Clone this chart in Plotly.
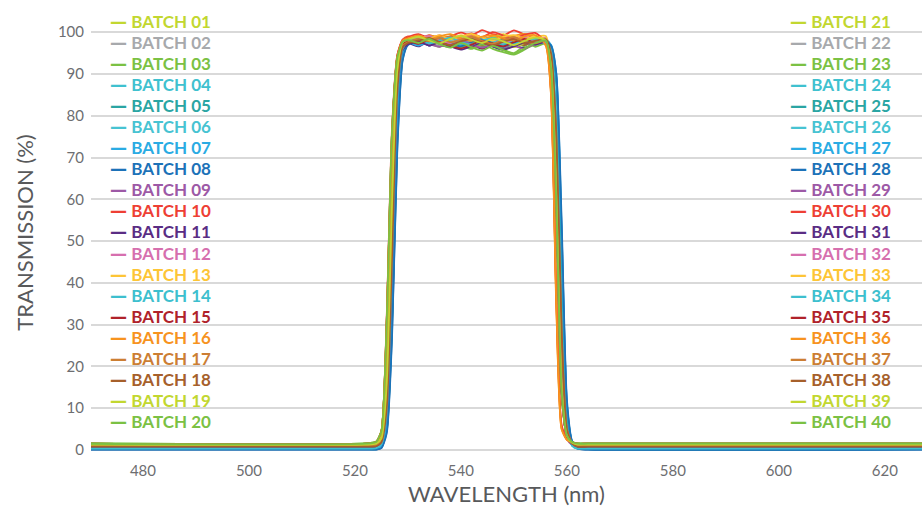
import plotly.graph_objects as go

# ---------------- data ----------------
wavelength = [470, 522, 524, 525, 526, 527, 528, 529, 530, 532, 534, 536, 538, 540, 542, 544,
              546, 548, 550, 552, 554, 556, 557, 558, 559, 560, 561, 562, 564, 628]

T01 = [1.4, 1.4, 1.6, 2.9, 16, 60, 91, 97.5, 98.8, 97.4, 98.6, 97.2, 98.9, 97.6, 97.0, 98.7, 97.3, 96.4, 97.9, 96.8, 98.3, 97.5, 92, 61, 15, 3.4, 1.8, 1.4, 1.4, 1.4]
T02 = [0.6, 0.6, 0.7, 1.6, 10, 46, 86, 96.5, 97.6, 98.6, 97.3, 98.9, 97.8, 98.2, 99.0, 97.4, 98.5, 97.2, 98.3, 99.0, 97.7, 97.3, 95, 76, 29, 4.6, 1.3, 0.6, 0.6, 0.6]
T03 = [1.6, 1.6, 2.0, 4.6, 31, 76, 94, 97.8, 97.2, 98.7, 96.9, 98.2, 96.4, 97.6, 98.4, 96.5, 97.4, 95.8, 95.0, 96.7, 97.9, 98.3, 91, 58, 13, 3.6, 2.0, 1.6, 1.6, 1.6]
T04 = [0.4, 0.4, 0.5, 1.4, 9, 44, 85, 96.2, 97.9, 96.8, 98.4, 97.3, 96.7, 98.6, 97.9, 96.9, 98.7, 97.6, 98.2, 97.0, 98.5, 97.5, 94.5, 74, 27, 4.4, 1.1, 0.4, 0.4, 0.4]
T05 = [0.25, 0.25, 0.25, 0.75, 5, 31, 76, 94, 97.2, 98.3, 97.0, 97.9, 98.8, 97.5, 96.9, 98.1, 98.6, 97.4, 96.8, 97.8, 98.6, 97.9, 96.5, 88, 47, 9, 1.7, 0.45, 0.25, 0.25]
T06 = [0.7, 0.7, 0.8, 1.7, 10, 47, 86, 96.6, 98.2, 97.1, 98.6, 97.5, 98.9, 97.9, 97.0, 98.4, 97.5, 99.0, 97.9, 96.9, 98.2, 97.6, 95, 76, 30, 4.7, 1.4, 0.7, 0.7, 0.7]
T07 = [0.35, 0.35, 0.35, 0.85, 5.5, 32, 77, 94.5, 97.5, 98.5, 97.4, 98.2, 97.0, 98.8, 97.8, 96.8, 98.0, 98.6, 97.2, 98.3, 97.6, 98.4, 96.8, 89, 50, 10, 1.9, 0.55, 0.35, 0.35]
T08 = [0.1, 0.1, 0.1, 0.5, 4.5, 28, 73, 93.5, 97.1, 98.0, 96.8, 97.5, 98.4, 96.7, 97.4, 98.3, 96.6, 95.9, 97.0, 97.9, 98.4, 98.0, 96.7, 89, 52, 11, 1.8, 0.3, 0.1, 0.1]
T09 = [0.9, 0.9, 1.1, 2.4, 15, 57, 90, 96.9, 97.4, 98.4, 96.8, 97.7, 98.6, 97.2, 96.4, 97.5, 96.6, 96.0, 97.3, 98.2, 97.1, 97.8, 92, 62, 15, 2.9, 1.3, 0.9, 0.9, 0.9]
T10 = [1.5, 1.5, 1.9, 4.5, 32, 77, 94.5, 98.2, 99.0, 98.3, 99.3, 98.5, 99.0, 99.9, 99.2, 100.5, 99.5, 99.2, 100.4, 99.4, 98.7, 97.6, 86, 36, 5.5, 2.5, 1.8, 1.5, 1.5, 1.5]
T11 = [0.8, 0.8, 0.9, 1.8, 9, 44, 85, 95.8, 97.3, 96.6, 97.8, 96.9, 96.5, 97.6, 97.0, 96.0, 97.2, 98.0, 96.9, 96.2, 97.4, 97.9, 95, 75, 28, 4.8, 1.5, 0.8, 0.8, 0.8]
T12 = [1.1, 1.1, 1.3, 2.6, 15, 58, 90, 97, 97.9, 98.8, 97.7, 98.4, 97.4, 98.6, 99.2, 98.1, 97.3, 98.5, 99.0, 97.8, 98.3, 98.6, 92.5, 61, 15, 3.1, 1.5, 1.1, 1.1, 1.1]
T13 = [1.3, 1.3, 1.5, 2.8, 16, 59, 91, 97.5, 98.7, 99.2, 98.2, 99.0, 98.5, 99.3, 98.7, 98.0, 98.8, 99.5, 98.6, 97.9, 98.8, 99.1, 93, 63, 16, 3.3, 1.7, 1.3, 1.3, 1.3]
T14 = [0.3, 0.3, 0.4, 1.3, 9, 45, 85, 96, 97.6, 96.9, 98.0, 98.7, 97.4, 96.8, 97.9, 98.6, 97.6, 97.0, 98.2, 97.5, 96.9, 97.7, 95.5, 78, 31, 4.5, 1.0, 0.3, 0.3, 0.3]
T15 = [1.2, 1.2, 1.4, 2.7, 15, 57, 90, 97.1, 98.0, 98.9, 98.1, 97.3, 98.5, 97.8, 96.9, 96.2, 97.2, 98.0, 98.7, 97.6, 97.0, 98.1, 92, 60, 14, 3.2, 1.6, 1.2, 1.2, 1.2]
T16 = [1.45, 1.45, 1.85, 4.4, 30, 75, 94, 98, 98.8, 98.0, 99.2, 98.6, 97.9, 98.9, 99.4, 98.4, 99.0, 98.1, 99.1, 99.6, 98.7, 96.8, 85, 34, 5, 2.45, 1.75, 1.45, 1.45, 1.45]
T17 = [1.0, 1.0, 1.2, 2.5, 14, 56, 89, 96.8, 97.8, 98.6, 97.5, 98.2, 99.0, 98.0, 97.3, 98.4, 97.6, 98.7, 98.0, 97.2, 98.2, 97.7, 94.5, 74, 27, 5, 1.7, 1.0, 1.0, 1.0]
T18 = [0.9, 0.9, 1.0, 1.9, 10, 46, 86, 96.4, 97.6, 98.1, 97.2, 98.0, 97.1, 98.3, 97.7, 96.8, 97.6, 98.5, 97.4, 96.9, 97.9, 98.3, 95, 76, 29, 4.9, 1.6, 0.9, 0.9, 0.9]
T19 = [1.35, 1.35, 1.55, 2.9, 16, 60, 91, 98, 98.6, 97.8, 98.9, 98.2, 97.5, 98.8, 98.0, 97.1, 98.2, 97.5, 96.4, 97.4, 98.5, 97.9, 92, 61, 15, 3.35, 1.75, 1.35, 1.35, 1.35]
T20 = [1.55, 1.55, 1.95, 4.5, 30, 76, 94, 97.6, 97.9, 98.7, 97.3, 96.5, 97.7, 96.8, 96.0, 97.1, 96.0, 95.2, 94.6, 95.8, 97.2, 98.1, 91.5, 59, 14, 3.5, 1.95, 1.55, 1.55, 1.55]
T21 = [1.3, 1.3, 1.5, 2.8, 15, 58, 90, 97.3, 98.3, 99.0, 98.0, 98.6, 97.7, 98.9, 98.3, 97.5, 98.7, 99.3, 98.4, 97.6, 98.5, 98.0, 92.5, 62, 15, 3.3, 1.7, 1.3, 1.3, 1.3]
T22 = [0.65, 0.65, 0.75, 1.65, 10, 45, 85, 96.3, 97.7, 98.5, 97.9, 96.9, 98.0, 98.6, 97.5, 98.1, 97.2, 97.9, 98.7, 97.6, 97.0, 97.9, 95, 75, 28, 4.65, 1.35, 0.65, 0.65, 0.65]
T23 = [1.6, 1.6, 2.0, 4.6, 31, 76, 94, 97.9, 98.4, 97.5, 98.5, 97.9, 96.9, 96.3, 97.4, 98.2, 96.8, 95.8, 96.8, 97.8, 96.5, 97.3, 91, 57, 13, 3.6, 2.0, 1.6, 1.6, 1.6]
T24 = [0.4, 0.4, 0.5, 1.4, 9.5, 46, 86, 96.4, 97.9, 98.6, 97.6, 98.3, 97.3, 97.9, 98.8, 97.7, 97.1, 98.0, 97.5, 98.6, 97.9, 97.2, 95.5, 78, 31, 4.4, 1.1, 0.4, 0.4, 0.4]
T25 = [0.2, 0.2, 0.2, 0.7, 5, 30, 75, 93.8, 97.3, 98.1, 98.6, 97.4, 96.8, 97.9, 98.5, 97.3, 97.9, 97.0, 97.8, 98.5, 97.5, 98.1, 96.6, 88, 48, 9, 1.7, 0.4, 0.2, 0.2]
T26 = [0.55, 0.55, 0.65, 1.55, 9, 45, 85, 96.2, 98.0, 97.2, 98.3, 99.0, 97.9, 97.1, 97.8, 98.7, 97.9, 97.2, 98.2, 98.8, 97.7, 97.4, 95, 76, 30, 4.55, 1.25, 0.55, 0.55, 0.55]
T27 = [0.3, 0.3, 0.3, 0.8, 5.5, 32, 77, 94.3, 97.5, 96.8, 97.8, 98.5, 97.5, 96.9, 98.1, 97.4, 98.6, 97.8, 97.0, 98.0, 98.7, 97.7, 97, 90, 53, 11, 1.9, 0.5, 0.3, 0.3]
T28 = [0.1, 0.1, 0.1, 0.45, 4, 27, 72, 93.2, 96.9, 97.7, 97.0, 98.0, 97.3, 96.6, 97.6, 98.3, 97.2, 96.5, 97.5, 98.2, 97.3, 97.7, 96.8, 90, 55, 12, 2.0, 0.3, 0.1, 0.1]
T29 = [0.8, 0.8, 0.9, 1.8, 10, 46, 86, 96.3, 97.4, 98.0, 97.1, 96.5, 97.4, 98.1, 97.0, 96.3, 97.1, 97.8, 96.8, 96.0, 97.3, 97.7, 92, 61, 15, 2.8, 1.2, 0.8, 0.8, 0.8]
T30 = [1.5, 1.5, 1.9, 4.5, 31, 76, 94.5, 98.1, 98.8, 99.5, 98.6, 99.2, 98.4, 98.9, 99.7, 98.8, 100.0, 99.2, 98.5, 99.4, 99.8, 97.5, 86, 37, 6, 2.5, 1.8, 1.5, 1.5, 1.5]
T31 = [0.7, 0.7, 0.8, 1.7, 9, 44, 85, 95.7, 97.1, 97.8, 96.8, 97.6, 96.6, 95.8, 96.7, 97.5, 96.6, 95.8, 96.6, 97.5, 97.0, 97.6, 95, 75, 28, 4.7, 1.4, 0.7, 0.7, 0.7]
T32 = [1.0, 1.0, 1.2, 2.5, 14, 57, 90, 96.9, 97.7, 98.5, 99.1, 98.0, 97.4, 98.3, 98.9, 97.8, 98.4, 97.5, 98.2, 98.9, 97.9, 97.7, 92, 61, 15, 3.0, 1.4, 1.0, 1.0, 1.0]
T33 = [1.25, 1.25, 1.45, 2.75, 16, 59, 91, 97.4, 98.4, 99.1, 98.5, 99.3, 98.3, 98.9, 99.6, 98.7, 98.0, 98.9, 99.3, 98.4, 99.0, 98.2, 93, 63, 16, 3.25, 1.65, 1.25, 1.25, 1.25]
T34 = [0.35, 0.35, 0.45, 1.35, 9, 45, 85, 96, 97.7, 98.3, 97.3, 98.0, 98.7, 97.6, 97.0, 98.0, 98.5, 97.6, 97.1, 98.0, 98.4, 97.7, 95.5, 77, 30, 4.35, 1.05, 0.35, 0.35, 0.35]
T35 = [1.1, 1.1, 1.3, 2.6, 15, 57, 90, 97, 97.9, 97.2, 98.1, 97.5, 96.8, 96.1, 97.0, 97.9, 97.2, 96.6, 97.6, 98.4, 97.4, 98.0, 92, 60, 14, 3.1, 1.5, 1.1, 1.1, 1.1]
T36 = [1.4, 1.4, 1.8, 4.4, 30, 75, 94, 98, 98.5, 99.2, 98.3, 99.0, 99.5, 98.5, 97.9, 98.9, 99.3, 98.6, 98.0, 99.0, 99.3, 96.9, 85, 35, 5, 2.4, 1.7, 1.4, 1.4, 1.4]
T37 = [1.0, 1.0, 1.2, 2.5, 14, 56, 89, 96.8, 97.6, 98.4, 97.8, 98.6, 97.6, 98.2, 98.9, 97.9, 97.2, 98.1, 98.8, 97.7, 97.3, 98.0, 94.5, 74, 27, 5, 1.7, 1.0, 1.0, 1.0]
T38 = [0.8, 0.8, 0.9, 1.8, 10, 46, 86, 96.3, 97.4, 98.0, 98.6, 97.6, 96.9, 97.8, 98.4, 97.5, 96.8, 97.7, 98.3, 97.4, 97.9, 98.3, 95, 76, 29, 4.8, 1.5, 0.8, 0.8, 0.8]
T39 = [1.3, 1.3, 1.5, 2.8, 16, 59, 91, 97.6, 98.2, 98.9, 98.0, 97.3, 98.4, 99.1, 98.2, 97.4, 98.5, 97.8, 96.9, 97.9, 98.7, 98.0, 92, 61, 15, 3.3, 1.7, 1.3, 1.3, 1.3]
T40 = [1.5, 1.5, 1.9, 4.5, 31, 76, 94, 97.7, 98.1, 97.4, 98.4, 97.1, 96.3, 97.4, 96.4, 95.6, 96.7, 95.7, 94.8, 96.1, 97.4, 98.0, 91.5, 59, 14, 3.5, 1.9, 1.5, 1.5, 1.5]

transmission = [T01, T02, T03, T04, T05, T06, T07, T08, T09, T10,
                T11, T12, T13, T14, T15, T16, T17, T18, T19, T20,
                T21, T22, T23, T24, T25, T26, T27, T28, T29, T30,
                T31, T32, T33, T34, T35, T36, T37, T38, T39, T40]
for _t in transmission:
    assert len(_t) == len(wavelength)

batch_names = ["BATCH %02d" % i for i in range(1, 41)]

palette = ["#C2D730", "#A7A9AC", "#7BC143", "#3FC1CF", "#2AA5A3",
           "#47C3D2", "#2AABE3", "#1C72B8", "#9D59A6", "#EE3F34",
           "#5A2D84", "#D66FAE", "#FDC536", "#3DBFCE", "#B0222A",
           "#F7931E", "#CC7E33", "#A6602B", "#C2D730", "#7BC143"]
batch_colors = palette + palette

x_ticks = [480, 500, 520, 540, 560, 580, 600, 620]
y_ticks = [0, 10, 20, 30, 40, 50, 60, 70, 80, 90, 100]

# ---------------- figure ----------------
W, H = 922, 508
ML, MR, MT, MB = 91, 0, 10, 53
pw, ph = W - ML - MR, H - MT - MB

fig = go.Figure()
for name, ys, col in zip(batch_names, transmission, batch_colors):
    fig.add_trace(go.Scatter(
        x=wavelength, y=ys, mode="lines", name=name, showlegend=False,
        line=dict(color=col, width=1.8, shape="spline", smoothing=0.6),
    ))

annotations = []
for i, (name, col) in enumerate(zip(batch_names, batch_colors)):
    colidx, row = divmod(i, 20)
    px_x = 108 if colidx == 0 else 788
    px_y = 21 + 21.1 * row
    annotations.append(dict(
        xref="paper", yref="paper",
        x=(px_x - ML) / pw, y=(H - MB - px_y) / ph,
        xanchor="left", yanchor="middle", showarrow=False,
        text="<span style=\"font-family:DejaVu Sans\"><b>—</b></span> <b>%s</b>" % name,
        font=dict(family="Lato", size=17, color=col),
    ))

fig.update_layout(
    width=W, height=H,
    margin=dict(l=ML, r=MR, t=MT, b=MB),
    paper_bgcolor="white", plot_bgcolor="white",
    font=dict(family="Lato", color="#6d6e71"),
    annotations=annotations,
    showlegend=False,
    xaxis=dict(
        range=[470.2, 627], tickvals=x_ticks, showgrid=False, zeroline=False,
        showline=False, ticks="", tickfont=dict(size=15, color="#6d6e71"),
        ticklabelstandoff=5,
        title=dict(text="WAVELENGTH (nm)", font=dict(size=22, color="#58595b"), standoff=8),
    ),
    yaxis=dict(
        range=[-1.2, 105.3], tickvals=y_ticks, showgrid=True, gridcolor="#d9d9d9",
        gridwidth=1.5, zeroline=False, showline=False, ticks="",
        tickfont=dict(size=15, color="#6d6e71"), ticklabelstandoff=6,
        title=dict(text="TRANSMISSION (%)", font=dict(size=22, color="#58595b"), standoff=18),
    ),
)

fig.write_html("out.html", config={"displayModeBar": False},
               post_script="document.body.style.margin='0';document.body.style.overflow='hidden';")
